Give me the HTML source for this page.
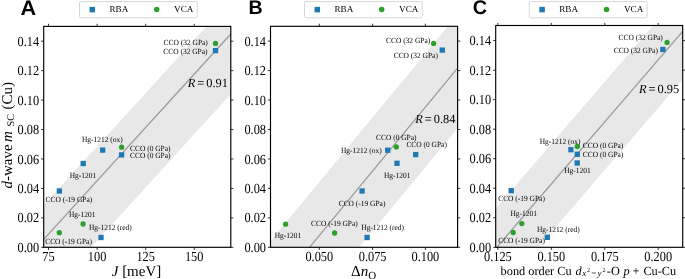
<!DOCTYPE html><html><head><meta charset="utf-8"><style>html,body{margin:0;padding:0;background:#fff;width:685px;height:279px;overflow:hidden}svg{display:block;will-change:transform}text{text-rendering:geometricPrecision}.s{font-family:"Liberation Serif",serif;fill:#000}.b{font-family:"Liberation Sans",sans-serif;font-weight:bold;fill:#000}</style></head><body>
<svg width="685" height="279" viewBox="0 0 685 279">
<polygon points="43.7,247.3 43.7,205.02 206.38,26.4 230.8,26.4 230.8,94.08 91.26,247.3" fill="#e8e8e8"/>
<line x1="43.7" y1="239.42" x2="230.8" y2="33.98" stroke="#9a9a9a" stroke-width="1.25"/>
<polygon points="270.5,247.3 270.5,240.99 447.93,26.3 457.6,26.3 457.6,128.3 359.26,247.3" fill="#e8e8e8"/>
<line x1="309.5" y1="247.3" x2="457.6" y2="68.1" stroke="#9a9a9a" stroke-width="1.25"/>
<polygon points="495.7,247.3 495.7,208.5 653.18,25.5 682.7,25.5 682.7,79.5 538.3,247.3" fill="#e8e8e8"/>
<line x1="496.82" y1="247.3" x2="682.7" y2="31.3" stroke="#9a9a9a" stroke-width="1.25"/>
<text transform="translate(207.8,44.5) scale(1,1.06)" font-size="7.45" text-anchor="end" class="s">CCO (32 GPa)</text>
<text transform="translate(207.5,53.5) scale(1,1.06)" font-size="7.45" text-anchor="end" class="s">CCO (32 GPa)</text>
<text transform="translate(82,142.4) scale(1,1.06)" font-size="7.45" text-anchor="start" class="s">Hg-1212 (ox)</text>
<text transform="translate(130,150.5) scale(1,1.06)" font-size="7.45" text-anchor="start" class="s">CCO (0 GPa)</text>
<text transform="translate(130,158.2) scale(1,1.06)" font-size="7.45" text-anchor="start" class="s">CCO (0 GPa)</text>
<text transform="translate(69.7,177.6) scale(1,1.06)" font-size="7.45" text-anchor="start" class="s">Hg-1201</text>
<text transform="translate(45.5,201.8) scale(1,1.06)" font-size="7.45" text-anchor="start" class="s">CCO (-19 GPa)</text>
<text transform="translate(69,217) scale(1,1.06)" font-size="7.45" text-anchor="start" class="s">Hg-1201</text>
<text transform="translate(45.2,244) scale(1,1.06)" font-size="7.45" text-anchor="start" class="s">CCO (-19 GPa)</text>
<text transform="translate(89,230) scale(1,1.06)" font-size="7.45" text-anchor="start" class="s">Hg-1212 (red)</text>
<text transform="translate(430.2,42.7) scale(1,1.06)" font-size="7.45" text-anchor="end" class="s">CCO (32 GPa)</text>
<text transform="translate(437.9,57.9) scale(1,1.06)" font-size="7.45" text-anchor="end" class="s">CCO (32 GPa)</text>
<text transform="translate(376,139.6) scale(1,1.06)" font-size="7.45" text-anchor="start" class="s">CCO (0 GPa)</text>
<text transform="translate(341,152.5) scale(1,1.06)" font-size="7.45" text-anchor="start" class="s">Hg-1212 (ox)</text>
<text transform="translate(384,177.7) scale(1,1.06)" font-size="7.45" text-anchor="start" class="s">Hg-1201</text>
<text transform="translate(406.4,147) scale(1,1.06)" font-size="7.45" text-anchor="start" class="s">CCO (0 GPa)</text>
<text transform="translate(338.7,205.8) scale(1,1.06)" font-size="7.45" text-anchor="start" class="s">CCO (-19 GPa)</text>
<text transform="translate(274.7,238.3) scale(1,1.06)" font-size="7.45" text-anchor="start" class="s">Hg-1201</text>
<text transform="translate(311.1,225.7) scale(1,1.06)" font-size="7.45" text-anchor="start" class="s">CCO (-19 GPa)</text>
<text transform="translate(361.3,229.7) scale(1,1.06)" font-size="7.45" text-anchor="start" class="s">Hg-1212 (red)</text>
<text transform="translate(662.8,39.8) scale(1,1.06)" font-size="7.45" text-anchor="end" class="s">CCO (32 GPa)</text>
<text transform="translate(657.9,53.2) scale(1,1.06)" font-size="7.45" text-anchor="end" class="s">CCO (32 GPa)</text>
<text transform="translate(582.8,148) scale(1,1.06)" font-size="7.45" text-anchor="start" class="s">CCO (0 GPa)</text>
<text transform="translate(539.7,143.7) scale(1,1.06)" font-size="7.45" text-anchor="start" class="s">Hg-1212 (ox)</text>
<text transform="translate(582.8,157.3) scale(1,1.06)" font-size="7.45" text-anchor="start" class="s">CCO (0 GPa)</text>
<text transform="translate(564.2,172.7) scale(1,1.06)" font-size="7.45" text-anchor="start" class="s">Hg-1201</text>
<text transform="translate(498.2,201) scale(1,1.06)" font-size="7.45" text-anchor="start" class="s">CCO (-19 GPa)</text>
<text transform="translate(510.5,216.4) scale(1,1.06)" font-size="7.45" text-anchor="start" class="s">Hg-1201</text>
<text transform="translate(498.2,242.5) scale(1,1.06)" font-size="7.45" text-anchor="start" class="s">CCO (-19 GPa)</text>
<text transform="translate(536.9,231.6) scale(1,1.06)" font-size="7.45" text-anchor="start" class="s">Hg-1212 (red)</text>
<circle cx="215.5" cy="43.4" r="2.65" fill="#2ca02c"/>
<rect x="212.85" y="47.95" width="5.3" height="5.3" fill="#1f77b4"/>
<rect x="100.05" y="147.45" width="5.3" height="5.3" fill="#1f77b4"/>
<circle cx="121.6" cy="147.2" r="2.65" fill="#2ca02c"/>
<rect x="118.95" y="152.25" width="5.3" height="5.3" fill="#1f77b4"/>
<rect x="80.55" y="160.85" width="5.3" height="5.3" fill="#1f77b4"/>
<rect x="56.75" y="188.35" width="5.3" height="5.3" fill="#1f77b4"/>
<circle cx="83.1" cy="224" r="2.65" fill="#2ca02c"/>
<circle cx="59.3" cy="232.7" r="2.65" fill="#2ca02c"/>
<rect x="98.35" y="234.85" width="5.3" height="5.3" fill="#1f77b4"/>
<circle cx="433.6" cy="43.4" r="2.65" fill="#2ca02c"/>
<rect x="439.65" y="47.45" width="5.3" height="5.3" fill="#1f77b4"/>
<circle cx="396.3" cy="146.9" r="2.65" fill="#2ca02c"/>
<rect x="385.05" y="147.55" width="5.3" height="5.3" fill="#1f77b4"/>
<rect x="394.35" y="160.65" width="5.3" height="5.3" fill="#1f77b4"/>
<rect x="413.05" y="151.95" width="5.3" height="5.3" fill="#1f77b4"/>
<rect x="359.45" y="188.35" width="5.3" height="5.3" fill="#1f77b4"/>
<circle cx="285.6" cy="224.2" r="2.65" fill="#2ca02c"/>
<circle cx="334.6" cy="233" r="2.65" fill="#2ca02c"/>
<rect x="364.45" y="234.85" width="5.3" height="5.3" fill="#1f77b4"/>
<circle cx="667.1" cy="42.4" r="2.65" fill="#2ca02c"/>
<rect x="660.25" y="46.85" width="5.3" height="5.3" fill="#1f77b4"/>
<circle cx="577.3" cy="146.5" r="2.65" fill="#2ca02c"/>
<rect x="568.25" y="147.05" width="5.3" height="5.3" fill="#1f77b4"/>
<rect x="574.65" y="151.65" width="5.3" height="5.3" fill="#1f77b4"/>
<rect x="574.55" y="160.35" width="5.3" height="5.3" fill="#1f77b4"/>
<rect x="508.55" y="187.95" width="5.3" height="5.3" fill="#1f77b4"/>
<circle cx="521.8" cy="223.6" r="2.65" fill="#2ca02c"/>
<circle cx="513.2" cy="232.5" r="2.65" fill="#2ca02c"/>
<rect x="544.65" y="234.65" width="5.3" height="5.3" fill="#1f77b4"/>
<text x="228" y="87" font-size="12.4" text-anchor="end" class="s"><tspan font-style="italic">R</tspan><tspan dx="2">=</tspan><tspan dx="2">0.91</tspan></text>
<text x="455.5" y="123" font-size="12.4" text-anchor="end" class="s"><tspan font-style="italic">R</tspan><tspan dx="2">=</tspan><tspan dx="2">0.84</tspan></text>
<text x="679.2" y="92.6" font-size="12.4" text-anchor="end" class="s"><tspan font-style="italic">R</tspan><tspan dx="2">=</tspan><tspan dx="2">0.95</tspan></text>
<rect x="43.7" y="26.4" width="187.1" height="220.9" fill="none" stroke="#000000" stroke-width="1.15"/>
<line x1="48.5" y1="247.3" x2="48.5" y2="249.9" stroke="#000000" stroke-width="0.8"/>
<line x1="48.5" y1="26.4" x2="48.5" y2="23.8" stroke="#000000" stroke-width="0.8"/>
<text transform="translate(48.5,260.8) scale(1,1.12)" font-size="12.35" text-anchor="middle" class="s">75</text>
<line x1="97.1" y1="247.3" x2="97.1" y2="249.9" stroke="#000000" stroke-width="0.8"/>
<line x1="97.1" y1="26.4" x2="97.1" y2="23.8" stroke="#000000" stroke-width="0.8"/>
<text transform="translate(97.1,260.8) scale(1,1.12)" font-size="12.35" text-anchor="middle" class="s">100</text>
<line x1="145.7" y1="247.3" x2="145.7" y2="249.9" stroke="#000000" stroke-width="0.8"/>
<line x1="145.7" y1="26.4" x2="145.7" y2="23.8" stroke="#000000" stroke-width="0.8"/>
<text transform="translate(145.7,260.8) scale(1,1.12)" font-size="12.35" text-anchor="middle" class="s">125</text>
<line x1="194.2" y1="247.3" x2="194.2" y2="249.9" stroke="#000000" stroke-width="0.8"/>
<line x1="194.2" y1="26.4" x2="194.2" y2="23.8" stroke="#000000" stroke-width="0.8"/>
<text transform="translate(194.2,260.8) scale(1,1.12)" font-size="12.35" text-anchor="middle" class="s">150</text>
<line x1="41.1" y1="247.3" x2="43.7" y2="247.3" stroke="#000000" stroke-width="0.8"/>
<line x1="230.8" y1="247.3" x2="233.4" y2="247.3" stroke="#000000" stroke-width="0.8"/>
<text transform="translate(39.2,251.9) scale(1,1.12)" font-size="12.35" text-anchor="end" class="s">0.00</text>
<line x1="41.1" y1="217.86" x2="43.7" y2="217.86" stroke="#000000" stroke-width="0.8"/>
<line x1="230.8" y1="217.86" x2="233.4" y2="217.86" stroke="#000000" stroke-width="0.8"/>
<text transform="translate(39.2,222.46) scale(1,1.12)" font-size="12.35" text-anchor="end" class="s">0.02</text>
<line x1="41.1" y1="188.41" x2="43.7" y2="188.41" stroke="#000000" stroke-width="0.8"/>
<line x1="230.8" y1="188.41" x2="233.4" y2="188.41" stroke="#000000" stroke-width="0.8"/>
<text transform="translate(39.2,193.01) scale(1,1.12)" font-size="12.35" text-anchor="end" class="s">0.04</text>
<line x1="41.1" y1="158.97" x2="43.7" y2="158.97" stroke="#000000" stroke-width="0.8"/>
<line x1="230.8" y1="158.97" x2="233.4" y2="158.97" stroke="#000000" stroke-width="0.8"/>
<text transform="translate(39.2,163.57) scale(1,1.12)" font-size="12.35" text-anchor="end" class="s">0.06</text>
<line x1="41.1" y1="129.53" x2="43.7" y2="129.53" stroke="#000000" stroke-width="0.8"/>
<line x1="230.8" y1="129.53" x2="233.4" y2="129.53" stroke="#000000" stroke-width="0.8"/>
<text transform="translate(39.2,134.13) scale(1,1.12)" font-size="12.35" text-anchor="end" class="s">0.08</text>
<line x1="41.1" y1="100.09" x2="43.7" y2="100.09" stroke="#000000" stroke-width="0.8"/>
<line x1="230.8" y1="100.09" x2="233.4" y2="100.09" stroke="#000000" stroke-width="0.8"/>
<text transform="translate(39.2,104.69) scale(1,1.12)" font-size="12.35" text-anchor="end" class="s">0.10</text>
<line x1="41.1" y1="70.64" x2="43.7" y2="70.64" stroke="#000000" stroke-width="0.8"/>
<line x1="230.8" y1="70.64" x2="233.4" y2="70.64" stroke="#000000" stroke-width="0.8"/>
<text transform="translate(39.2,75.24) scale(1,1.12)" font-size="12.35" text-anchor="end" class="s">0.12</text>
<line x1="41.1" y1="41.2" x2="43.7" y2="41.2" stroke="#000000" stroke-width="0.8"/>
<line x1="230.8" y1="41.2" x2="233.4" y2="41.2" stroke="#000000" stroke-width="0.8"/>
<text transform="translate(39.2,45.8) scale(1,1.12)" font-size="12.35" text-anchor="end" class="s">0.14</text>
<rect x="270.5" y="26.3" width="187.1" height="221" fill="none" stroke="#000000" stroke-width="1.15"/>
<line x1="319.3" y1="247.3" x2="319.3" y2="249.9" stroke="#000000" stroke-width="0.8"/>
<line x1="319.3" y1="26.3" x2="319.3" y2="23.7" stroke="#000000" stroke-width="0.8"/>
<text transform="translate(319.3,260.8) scale(1,1.12)" font-size="12.35" text-anchor="middle" class="s">0.050</text>
<line x1="372.6" y1="247.3" x2="372.6" y2="249.9" stroke="#000000" stroke-width="0.8"/>
<line x1="372.6" y1="26.3" x2="372.6" y2="23.7" stroke="#000000" stroke-width="0.8"/>
<text transform="translate(372.6,260.8) scale(1,1.12)" font-size="12.35" text-anchor="middle" class="s">0.075</text>
<line x1="425.4" y1="247.3" x2="425.4" y2="249.9" stroke="#000000" stroke-width="0.8"/>
<line x1="425.4" y1="26.3" x2="425.4" y2="23.7" stroke="#000000" stroke-width="0.8"/>
<text transform="translate(425.4,260.8) scale(1,1.12)" font-size="12.35" text-anchor="middle" class="s">0.100</text>
<line x1="267.9" y1="247.3" x2="270.5" y2="247.3" stroke="#000000" stroke-width="0.8"/>
<line x1="457.6" y1="247.3" x2="460.2" y2="247.3" stroke="#000000" stroke-width="0.8"/>
<text transform="translate(266,251.9) scale(1,1.12)" font-size="12.35" text-anchor="end" class="s">0.00</text>
<line x1="267.9" y1="217.84" x2="270.5" y2="217.84" stroke="#000000" stroke-width="0.8"/>
<line x1="457.6" y1="217.84" x2="460.2" y2="217.84" stroke="#000000" stroke-width="0.8"/>
<text transform="translate(266,222.44) scale(1,1.12)" font-size="12.35" text-anchor="end" class="s">0.02</text>
<line x1="267.9" y1="188.39" x2="270.5" y2="188.39" stroke="#000000" stroke-width="0.8"/>
<line x1="457.6" y1="188.39" x2="460.2" y2="188.39" stroke="#000000" stroke-width="0.8"/>
<text transform="translate(266,192.99) scale(1,1.12)" font-size="12.35" text-anchor="end" class="s">0.04</text>
<line x1="267.9" y1="158.93" x2="270.5" y2="158.93" stroke="#000000" stroke-width="0.8"/>
<line x1="457.6" y1="158.93" x2="460.2" y2="158.93" stroke="#000000" stroke-width="0.8"/>
<text transform="translate(266,163.53) scale(1,1.12)" font-size="12.35" text-anchor="end" class="s">0.06</text>
<line x1="267.9" y1="129.47" x2="270.5" y2="129.47" stroke="#000000" stroke-width="0.8"/>
<line x1="457.6" y1="129.47" x2="460.2" y2="129.47" stroke="#000000" stroke-width="0.8"/>
<text transform="translate(266,134.07) scale(1,1.12)" font-size="12.35" text-anchor="end" class="s">0.08</text>
<line x1="267.9" y1="100.01" x2="270.5" y2="100.01" stroke="#000000" stroke-width="0.8"/>
<line x1="457.6" y1="100.01" x2="460.2" y2="100.01" stroke="#000000" stroke-width="0.8"/>
<text transform="translate(266,104.61) scale(1,1.12)" font-size="12.35" text-anchor="end" class="s">0.10</text>
<line x1="267.9" y1="70.56" x2="270.5" y2="70.56" stroke="#000000" stroke-width="0.8"/>
<line x1="457.6" y1="70.56" x2="460.2" y2="70.56" stroke="#000000" stroke-width="0.8"/>
<text transform="translate(266,75.16) scale(1,1.12)" font-size="12.35" text-anchor="end" class="s">0.12</text>
<line x1="267.9" y1="41.1" x2="270.5" y2="41.1" stroke="#000000" stroke-width="0.8"/>
<line x1="457.6" y1="41.1" x2="460.2" y2="41.1" stroke="#000000" stroke-width="0.8"/>
<text transform="translate(266,45.7) scale(1,1.12)" font-size="12.35" text-anchor="end" class="s">0.14</text>
<rect x="495.7" y="25.5" width="187" height="221.8" fill="none" stroke="#000000" stroke-width="1.15"/>
<line x1="497.9" y1="247.3" x2="497.9" y2="249.9" stroke="#000000" stroke-width="0.8"/>
<line x1="497.9" y1="25.5" x2="497.9" y2="22.9" stroke="#000000" stroke-width="0.8"/>
<text transform="translate(497.9,260.8) scale(1,1.12)" font-size="12.35" text-anchor="middle" class="s">0.125</text>
<line x1="551.3" y1="247.3" x2="551.3" y2="249.9" stroke="#000000" stroke-width="0.8"/>
<line x1="551.3" y1="25.5" x2="551.3" y2="22.9" stroke="#000000" stroke-width="0.8"/>
<text transform="translate(551.3,260.8) scale(1,1.12)" font-size="12.35" text-anchor="middle" class="s">0.150</text>
<line x1="604.8" y1="247.3" x2="604.8" y2="249.9" stroke="#000000" stroke-width="0.8"/>
<line x1="604.8" y1="25.5" x2="604.8" y2="22.9" stroke="#000000" stroke-width="0.8"/>
<text transform="translate(604.8,260.8) scale(1,1.12)" font-size="12.35" text-anchor="middle" class="s">0.175</text>
<line x1="658.2" y1="247.3" x2="658.2" y2="249.9" stroke="#000000" stroke-width="0.8"/>
<line x1="658.2" y1="25.5" x2="658.2" y2="22.9" stroke="#000000" stroke-width="0.8"/>
<text transform="translate(658.2,260.8) scale(1,1.12)" font-size="12.35" text-anchor="middle" class="s">0.200</text>
<line x1="493.1" y1="247.3" x2="495.7" y2="247.3" stroke="#000000" stroke-width="0.8"/>
<line x1="682.7" y1="247.3" x2="685.3" y2="247.3" stroke="#000000" stroke-width="0.8"/>
<text transform="translate(491.2,251.9) scale(1,1.12)" font-size="12.35" text-anchor="end" class="s">0.00</text>
<line x1="493.1" y1="217.77" x2="495.7" y2="217.77" stroke="#000000" stroke-width="0.8"/>
<line x1="682.7" y1="217.77" x2="685.3" y2="217.77" stroke="#000000" stroke-width="0.8"/>
<text transform="translate(491.2,222.37) scale(1,1.12)" font-size="12.35" text-anchor="end" class="s">0.02</text>
<line x1="493.1" y1="188.24" x2="495.7" y2="188.24" stroke="#000000" stroke-width="0.8"/>
<line x1="682.7" y1="188.24" x2="685.3" y2="188.24" stroke="#000000" stroke-width="0.8"/>
<text transform="translate(491.2,192.84) scale(1,1.12)" font-size="12.35" text-anchor="end" class="s">0.04</text>
<line x1="493.1" y1="158.71" x2="495.7" y2="158.71" stroke="#000000" stroke-width="0.8"/>
<line x1="682.7" y1="158.71" x2="685.3" y2="158.71" stroke="#000000" stroke-width="0.8"/>
<text transform="translate(491.2,163.31) scale(1,1.12)" font-size="12.35" text-anchor="end" class="s">0.06</text>
<line x1="493.1" y1="129.19" x2="495.7" y2="129.19" stroke="#000000" stroke-width="0.8"/>
<line x1="682.7" y1="129.19" x2="685.3" y2="129.19" stroke="#000000" stroke-width="0.8"/>
<text transform="translate(491.2,133.79) scale(1,1.12)" font-size="12.35" text-anchor="end" class="s">0.08</text>
<line x1="493.1" y1="99.66" x2="495.7" y2="99.66" stroke="#000000" stroke-width="0.8"/>
<line x1="682.7" y1="99.66" x2="685.3" y2="99.66" stroke="#000000" stroke-width="0.8"/>
<text transform="translate(491.2,104.26) scale(1,1.12)" font-size="12.35" text-anchor="end" class="s">0.10</text>
<line x1="493.1" y1="70.13" x2="495.7" y2="70.13" stroke="#000000" stroke-width="0.8"/>
<line x1="682.7" y1="70.13" x2="685.3" y2="70.13" stroke="#000000" stroke-width="0.8"/>
<text transform="translate(491.2,74.73) scale(1,1.12)" font-size="12.35" text-anchor="end" class="s">0.12</text>
<line x1="493.1" y1="40.6" x2="495.7" y2="40.6" stroke="#000000" stroke-width="0.8"/>
<line x1="682.7" y1="40.6" x2="685.3" y2="40.6" stroke="#000000" stroke-width="0.8"/>
<text transform="translate(491.2,45.2) scale(1,1.12)" font-size="12.35" text-anchor="end" class="s">0.14</text>
<rect x="79.5" y="1.6" width="117.8" height="16.2" rx="1.5" fill="#fff" stroke="#d3d3d3" stroke-width="0.9"/>
<rect x="89.55" y="6.85" width="5.5" height="5.5" fill="#1f77b4"/>
<text x="109.4" y="12.1" font-size="9.2" text-anchor="start" class="s">RBA</text>
<circle cx="156.7" cy="9.6" r="2.75" fill="#2ca02c"/>
<text x="174.1" y="12.1" font-size="9.2" text-anchor="start" class="s">VCA</text>
<rect x="304.5" y="1.6" width="117.8" height="16.2" rx="1.5" fill="#fff" stroke="#d3d3d3" stroke-width="0.9"/>
<rect x="314.55" y="6.85" width="5.5" height="5.5" fill="#1f77b4"/>
<text x="334.4" y="12.1" font-size="9.2" text-anchor="start" class="s">RBA</text>
<circle cx="381.7" cy="9.6" r="2.75" fill="#2ca02c"/>
<text x="399.1" y="12.1" font-size="9.2" text-anchor="start" class="s">VCA</text>
<rect x="529.3" y="1.6" width="117.8" height="16.2" rx="1.5" fill="#fff" stroke="#d3d3d3" stroke-width="0.9"/>
<rect x="539.35" y="6.85" width="5.5" height="5.5" fill="#1f77b4"/>
<text x="559.2" y="12.1" font-size="9.2" text-anchor="start" class="s">RBA</text>
<circle cx="606.5" cy="9.6" r="2.75" fill="#2ca02c"/>
<text x="623.9" y="12.1" font-size="9.2" text-anchor="start" class="s">VCA</text>
<text transform="translate(20.5,14.95) scale(1.03,1)" font-size="21" class="b">A</text>
<text x="248.5" y="14.3" font-size="19.6" text-anchor="start" class="b">B</text>
<text x="472.8" y="14.3" font-size="19.8" text-anchor="start" class="b">C</text>
<text x="136.5" y="276" font-size="15" text-anchor="middle" class="s"><tspan font-style="italic">J</tspan> [meV]</text>
<text x="351" y="276.3" font-size="15" class="s">Δ<tspan font-style="italic">n</tspan><tspan font-size="11" dy="2.2">O</tspan></text>
<text y="274.7" font-size="12.3" class="s"><tspan x="500.6">bond order Cu</tspan><tspan x="575.6" font-style="italic">d</tspan><tspan x="582.2" y="275.9" font-size="9" font-style="italic">x</tspan><tspan x="586.9" y="271.6" font-size="6.2">2</tspan><tspan x="597.6" y="275.9" font-size="9" font-style="italic">y</tspan><tspan x="602.4" y="271.6" font-size="6.2">2</tspan><tspan x="606.8" y="274.7">-O</tspan><tspan x="623.4" font-style="italic">p</tspan><tspan x="632.4">+</tspan><tspan x="643.4">Cu-Cu</tspan></text>
<rect x="591.8" y="272.6" width="4.2" height="0.8" fill="#333"/>
<text transform="translate(11.8,188.6) rotate(-90)" font-size="15" class="s"><tspan x="0" font-style="italic">d</tspan>-wave<tspan x="46.6" font-style="italic">m</tspan><tspan x="62.2" y="2.4" font-size="10.2">SC</tspan><tspan x="79.2" y="0">(Cu)</tspan></text>
</svg></body></html>
